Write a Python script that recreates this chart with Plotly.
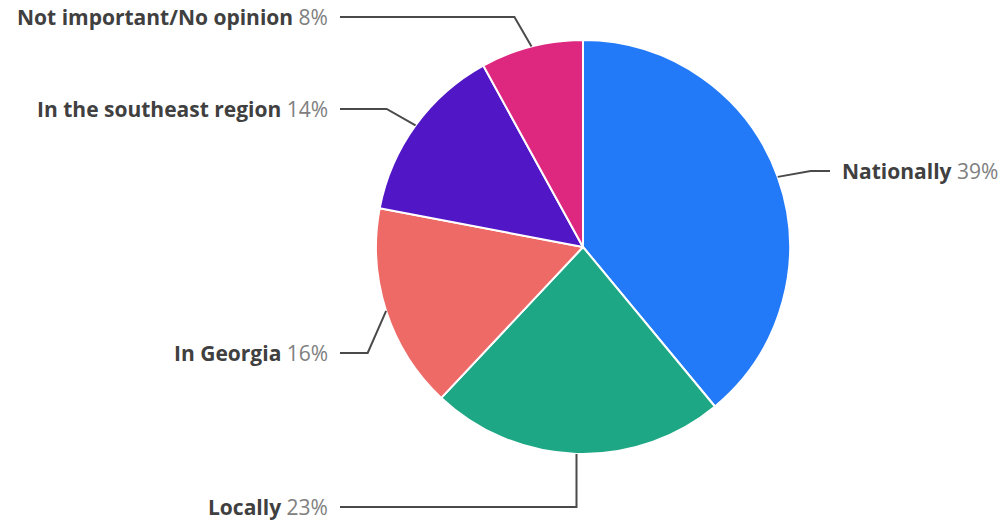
import math
import plotly.graph_objects as go

# Share of responses by scope
categories = ["Nationally", "Locally", "In Georgia", "In the southeast region", "Not important/No opinion"]
shares = [39, 23, 16, 14, 8]
slice_colors = ["#237AF8", "#1DA785", "#EE6A67", "#5117C7", "#DE2880"]

# Canvas and pie placement (pixels)
W, H = 1004, 522
CX, CY, R = 583, 247, 207
# vertical row of each label, in the same order as categories
label_rows_px = [171, 507, 353, 109, 17]
ELBOW_R = 240
LEFT_LINE_END, RIGHT_LINE_END = 340, 830
TEXT_GAP = 10


def px_x(x):
    return x / W


def px_y(y):
    return 1 - y / H


fig = go.Figure(
    go.Pie(
        labels=categories,
        values=shares,
        sort=False,
        direction="clockwise",
        rotation=0,
        marker=dict(colors=slice_colors, line=dict(color="white", width=2)),
        textinfo="none",
        hoverinfo="label+percent",
        showlegend=False,
        domain=dict(
            x=[px_x(CX - R), px_x(CX + R)],
            y=[px_y(CY + R), px_y(CY - R)],
        ),
    )
)

total = sum(shares)
cum = 0
shapes, annotations = [], []
for name, val, row in zip(categories, shares, label_rows_px):
    theta = 2 * math.pi * (cum + val / 2) / total
    cum += val
    ex = CX + R * math.sin(theta)
    ey = CY - R * math.cos(theta)
    right = math.sin(theta) > 0
    dy = row - CY
    if ELBOW_R ** 2 > dy ** 2:
        off = math.sqrt(ELBOW_R ** 2 - dy ** 2)
        bx = CX + off if right else CX - off
    else:
        bx = ex
    end_x = RIGHT_LINE_END if right else LEFT_LINE_END
    path = "M {} {} L {} {} L {} {}".format(
        px_x(ex), px_y(ey), px_x(bx), px_y(row), px_x(end_x), px_y(row)
    )
    shapes.append(dict(type="path", path=path, xref="paper", yref="paper",
                       line=dict(color="#4a4a4a", width=2)))
    text_x = end_x + TEXT_GAP if right else end_x - TEXT_GAP
    annotations.append(dict(
        x=px_x(text_x), y=px_y(row), xref="paper", yref="paper",
        xanchor="left" if right else "right", yanchor="middle",
        showarrow=False,
        text="<b>{}</b> <span style='color:#808080'>{}%</span>".format(name, val),
        font=dict(family="Open Sans", size=21, color="#404040"),
    ))

fig.update_layout(
    width=W, height=H,
    margin=dict(l=0, r=0, t=0, b=0),
    paper_bgcolor="white",
    plot_bgcolor="white",
    shapes=shapes,
    annotations=annotations,
)

fig.write_html("out.html")
